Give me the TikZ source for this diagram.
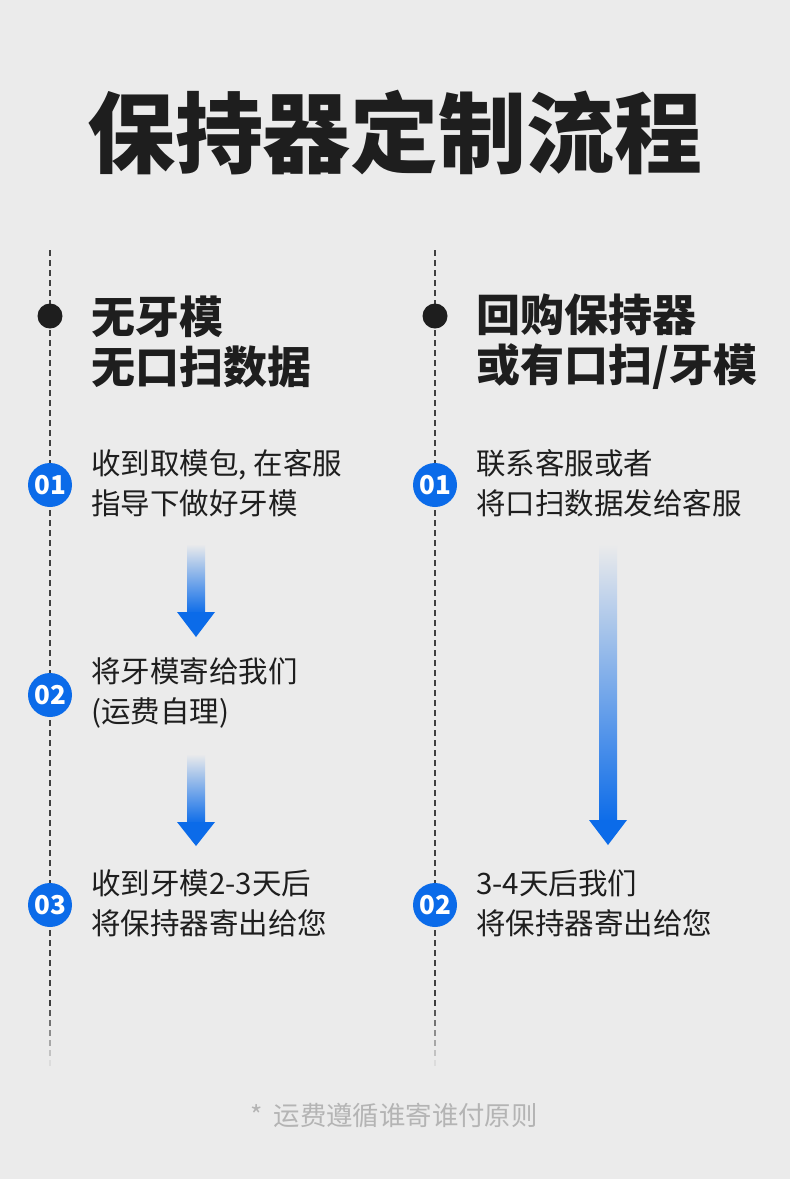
\documentclass[tikz,border=0pt]{standalone}
\usepackage{fontspec}
\setmainfont{Noto Sans CJK SC}
\newfontfamily\cjk{Noto Sans CJK SC}
\definecolor{bgc}{HTML}{EBEBEB}
\definecolor{ink}{HTML}{1E1E1E}
\definecolor{bluec}{HTML}{0B6BE9}
\definecolor{footc}{HTML}{B4B4B4}
\tikzset{
  titletext/.style={font=\cjk\bfseries\fontsize{88}{96}\selectfont, text=ink, inner sep=0},
  headtext/.style={font=\cjk\bfseries\fontsize{44}{50}\selectfont, text=ink, inner sep=0, align=left, anchor=west},
  steptext/.style={font=\cjk\fontsize{29.5}{40}\selectfont, text=ink, inner sep=0, align=left, anchor=west},
  numdot/.style={circle, fill=bluec, minimum size=44pt, inner sep=0, text=white, font=\cjk\bfseries\fontsize{26}{26}\selectfont},
  blackdot/.style={circle, fill=ink, minimum size=25pt, inner sep=0},
  timeline/.style={draw=ink!85, line width=1.4pt, dash pattern=on 6pt off 4pt},
  shaft/.style={top color=bgc, bottom color=bluec, draw=none},
  arrowhead/.style={fill=bluec, draw=none},
}
\begin{document}
\begin{tikzpicture}[x=1pt, y=-1pt]
\fill[bgc] (0,0) rectangle (790,1179);
\useasboundingbox (0,0) rectangle (790,1179);

% title
\node[titletext] (title) at (395,133) {保持器定制流程};

% timelines
\coordinate (lt) at (50,250);
\coordinate (lb) at (50,1000);
\coordinate (rt) at (435,250);
\coordinate (rb) at (435,1000);
\draw[timeline] (lt) -- (lb);
\draw[timeline] (rt) -- (rb);
\foreach \i in {0,...,6}{
  \pgfmathsetmacro{\op}{0.85-\i*0.13}
  \draw[draw=ink, line width=1.4pt, opacity=\op] (50,{1000+\i*10}) -- (50,{1006+\i*10});
  \draw[draw=ink, line width=1.4pt, opacity=\op] (435,{1000+\i*10}) -- (435,{1006+\i*10});
}

% headings
\node[blackdot] (ldot) at (50,316) {};
\node[blackdot] (rdot) at (435,316) {};
\node[headtext] (lhead) at (91,342) {无牙模\\无口扫数据};
\node[headtext] (rhead) at (476,342) {回购保持器\\或有口扫/牙模};

% left steps
\node[numdot] (l1) at (50,485) {01};
\node[steptext] (l1t) at (91,483) {收到取模包, 在客服\\指导下做好牙模};
\node[numdot] (l2) at (50,695) {02};
\node[steptext] (l2t) at (91,693) {将牙模寄给我们\\(运费自理)};
\node[numdot] (l3) at (50,905) {03};
\node[steptext] (l3t) at (91,903) {收到牙模2-3天后\\将保持器寄出给您};

% right steps
\node[numdot] (r1) at (435,485) {01};
\node[steptext] (r1t) at (476,483) {联系客服或者\\将口扫数据发给客服};
\node[numdot] (r2) at (435,905) {02};
\node[steptext] (r2t) at (476,903) {3-4天后我们\\将保持器寄出给您};

% arrows
\shade[shaft] (187,544) rectangle (205,614);
\fill[arrowhead] (177,612) -- (215,612) -- (196,637) -- cycle;
\shade[shaft] (187,754) rectangle (205,824);
\fill[arrowhead] (177,822) -- (215,822) -- (196,846) -- cycle;
\shade[shaft] (599,544) rectangle (617,824);
\fill[arrowhead] (589,820) -- (627,820) -- (608,845) -- cycle;

% footer
\node[font=\cjk\fontsize{26.4}{26}\selectfont, text=footc, inner sep=0] (foot) at (394,1115) {*\hspace{11pt}运费遵循谁寄谁付原则};
\end{tikzpicture}
\end{document}
